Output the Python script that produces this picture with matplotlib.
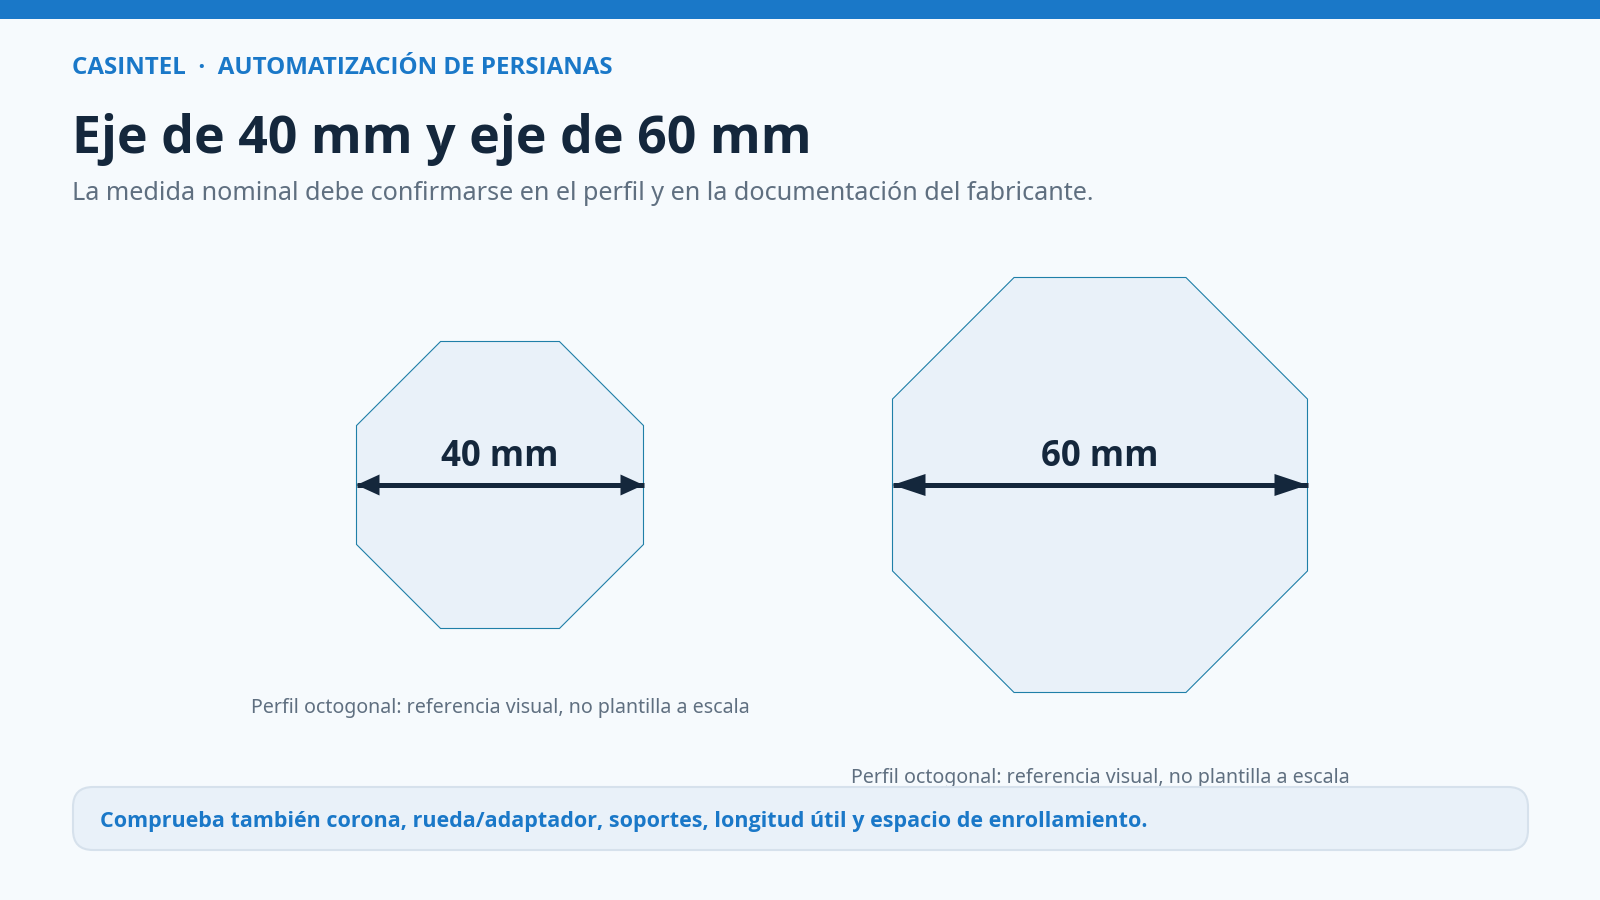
import matplotlib
matplotlib.use('Agg')
import matplotlib.pyplot as plt
from matplotlib.patches import Polygon, Rectangle, FancyBboxPatch

# data
shaft_mm = [40, 60]
shaft_labels = ['40 mm', '60 mm']
caption = 'Perfil octogonal: referencia visual, no plantilla a escala'
eyebrow = 'CASINTEL  ·  AUTOMATIZACIÓN DE PERSIANAS'
title = 'Eje de 40 mm y eje de 60 mm'
subtitle = 'La medida nominal debe confirmarse en el perfil y en la documentación del fabricante.'
note = 'Comprueba también corona, rueda/adaptador, soportes, longitud útil y espacio de enrollamiento.'

# colors
BG = '#f6fafd'
BLUE = '#1a78c8'
DARK = '#14273c'
GREY = '#5f6f80'
FILL = '#e9f1f9'

REGULAR = ['Noto Sans', 'DejaVu Sans']
BOLD = ['Open Sans', 'DejaVu Sans']

fig = plt.figure(figsize=(16, 9), dpi=100, facecolor=BG)
# axes in pixels, origin top left
ax = fig.add_axes([0, 0, 1, 1])
ax.set_xlim(0, 1600)
ax.set_ylim(900, 0)
ax.axis('off')

# top band
ax.add_patch(Rectangle((0, 0), 1600, 19, facecolor=BLUE, edgecolor='none'))

# header
ax.text(72, 68, eyebrow, fontsize=17.4, fontweight='bold', family=BOLD, color=BLUE, va='center', ha='left')
ax.text(72, 139, title, fontsize=37.4, fontweight='bold', family=BOLD, color=DARK, va='center', ha='left')
ax.text(72, 193, subtitle, fontsize=18.13, family=REGULAR, color=GREY, va='center', ha='left')

# octagons
centers = [500, 1100]
caption_y = [708, 778]
mid_y = 485
for mm, label, cx, cy in zip(shaft_mm, shaft_labels, centers, caption_y):
    w = 31 + 6.4 * mm
    h = w / 2
    c = w * 0.2071  # half of the flat side
    pts = [(cx - c, mid_y - h), (cx + c, mid_y - h), (cx + h, mid_y - c), (cx + h, mid_y + c),
           (cx + c, mid_y + h), (cx - c, mid_y + h), (cx - h, mid_y + c), (cx - h, mid_y - c)]
    ax.add_patch(Polygon(pts, closed=True, facecolor=FILL, edgecolor='#1f7fa8', linewidth=0.8, zorder=2))

    # double arrow
    head_l = 23 if mm == 40 else 33
    head_h = 10.5 if mm == 40 else 11
    ax.plot([cx - h, cx + h], [mid_y, mid_y], color=DARK, linewidth=3.6, solid_capstyle='butt', zorder=3)
    ax.add_patch(Polygon([(cx - h, mid_y), (cx - h + head_l, mid_y - head_h), (cx - h + head_l, mid_y + head_h)],
                         facecolor=DARK, edgecolor='none', zorder=3))
    ax.add_patch(Polygon([(cx + h, mid_y), (cx + h - head_l, mid_y - head_h), (cx + h - head_l, mid_y + head_h)],
                         facecolor=DARK, edgecolor='none', zorder=3))

    ax.text(cx, 457, label, fontsize=25, fontweight='bold', family=BOLD, color=DARK, va='center', ha='center', zorder=4)
    ax.text(cx, cy, caption, fontsize=14.1, family=REGULAR, color=GREY, va='center', ha='center', zorder=1)

# bottom note, covers the lower caption a little
ax.add_patch(FancyBboxPatch((73, 787), 1455, 63, boxstyle='round,pad=0,rounding_size=20',
                            facecolor=FILL, edgecolor='#d6e1ec', linewidth=1.5, zorder=5))
ax.text(100, 822, note, fontsize=15.45, fontweight='bold', family=BOLD, color=BLUE, va='center', ha='left', zorder=6)

fig.savefig('out.png', dpi=100, facecolor=BG)
plt.close()
